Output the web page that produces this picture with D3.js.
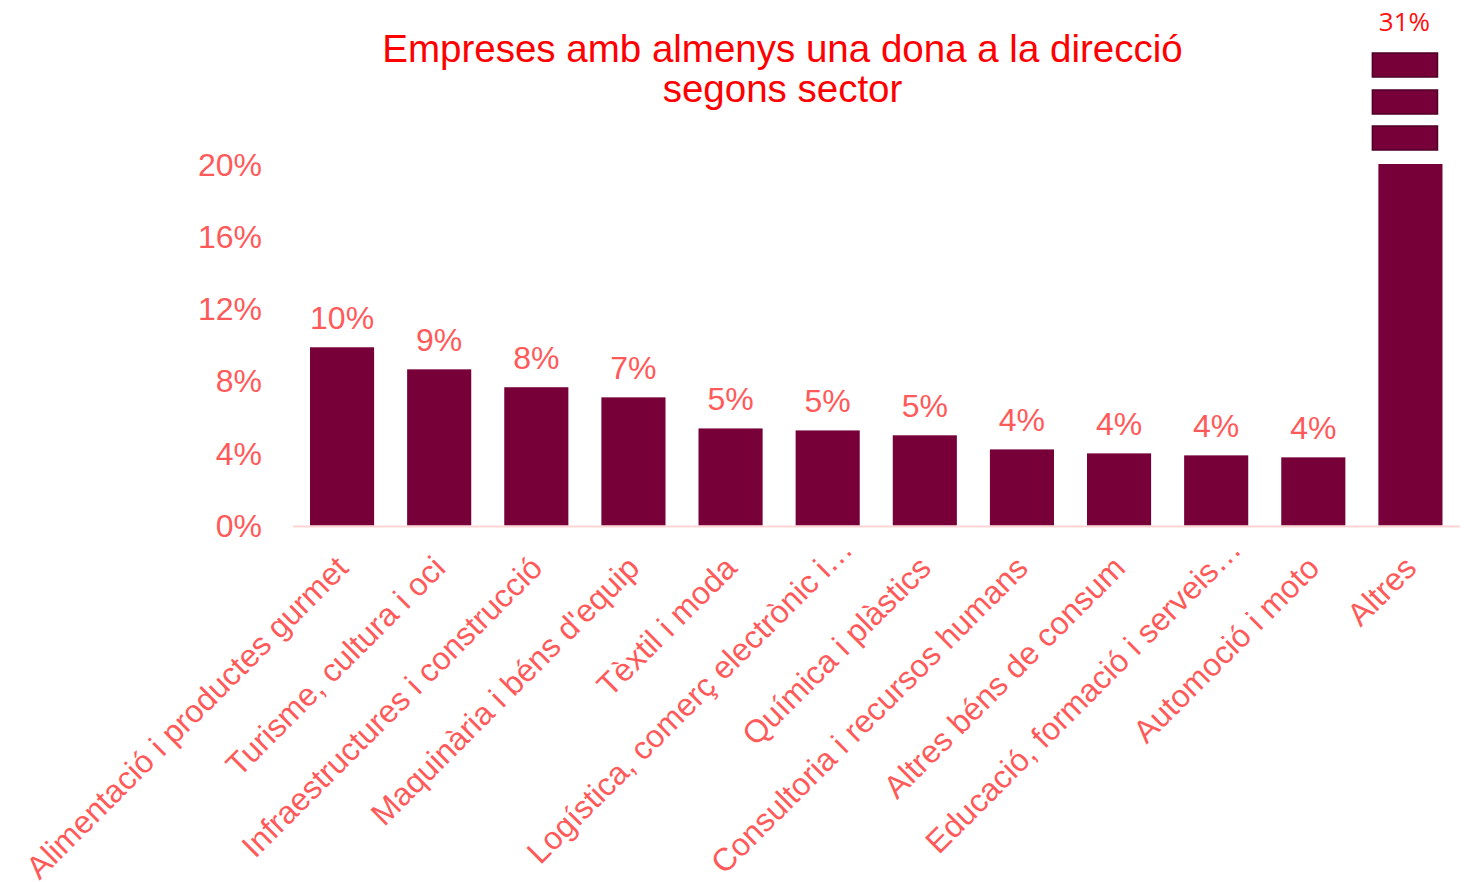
<!DOCTYPE html>
<html>
<head>
<meta charset="utf-8">
<script src="https://cdn.jsdelivr.net/npm/d3@7"></script>
<style>
  body { margin: 0; background: #fff; }
  svg { display: block; }
</style>
</head>
<body>
<div class="viz"></div>
<script>
const sectors = [
  "Alimentació i productes gurmet",
  "Turisme, cultura i oci",
  "Infraestructures i construcció",
  "Maquinària i béns d'equip",
  "Tèxtil i moda",
  "Logística, comerç electrònic i…",
  "Química i plàstics",
  "Consultoria i recursos humans",
  "Altres béns de consum",
  "Educació, formació i serveis…",
  "Automoció i moto",
  "Altres"
];
const shares = [9.86, 8.64, 7.65, 7.09, 5.37, 5.26, 4.99, 4.21, 3.99, 3.88, 3.77, 31];
const yTicks = [0, 4, 8, 12, 16, 20];
const titleLines = ["Empreses amb almenys una dona a la direcció", "segons sector"];

const width = 1468, height = 882;
const barColor = "#760037";
const labelColor = "#ff5a5a";
const font = "'Liberation Sans', Arial, sans-serif";

const svg = d3.select(".viz").append("svg")
  .attr("width", width)
  .attr("height", height);

const x = d3.scaleBand()
  .domain(sectors)
  .range([293.5, 1459])
  .paddingInner(0.34)
  .paddingOuter(0.17);

// axis stops at 20%, the "Altres" bar is cut with break marks
const y = d3.scaleLinear()
  .domain([0, 20])
  .range([525.5, 164])
  .clamp(true);

// title
svg.append("text")
  .attr("x", 782.5)
  .attr("y", 62)
  .attr("text-anchor", "middle")
  .style("font-family", font)
  .style("font-size", "38.5px")
  .style("fill", "#ff0000")
  .selectAll("tspan")
  .data(titleLines)
  .enter().append("tspan")
  .attr("x", 782.5)
  .attr("dy", (d, i) => i ? 40 : 0)
  .text(d => d);

// y labels
svg.append("g")
  .selectAll("text")
  .data(yTicks)
  .enter().append("text")
  .attr("x", 262)
  .attr("y", d => y(d))
  .attr("dy", "0.36em")
  .attr("text-anchor", "end")
  .style("font-family", font)
  .style("font-size", "32px")
  .style("fill", labelColor)
  .text(d => d + "%");

// bars
svg.append("g")
  .selectAll("rect")
  .data(shares)
  .enter().append("rect")
  .attr("x", (d, i) => x(sectors[i]))
  .attr("y", d => y(d))
  .attr("width", x.bandwidth())
  .attr("height", d => y(0) - y(d))
  .attr("fill", barColor);

// baseline
svg.append("line")
  .attr("x1", 293).attr("x2", 1460)
  .attr("y1", y(0) + 1).attr("y2", y(0) + 1)
  .attr("stroke", "#ffd4d4")
  .attr("stroke-width", 2);

// value labels (bars within the axis range)
svg.append("g")
  .selectAll("text")
  .data(shares.filter(d => d <= 20))
  .enter().append("text")
  .attr("x", (d, i) => x(sectors[i]) + x.bandwidth() / 2)
  .attr("y", d => y(d) - 18)
  .attr("text-anchor", "middle")
  .style("font-family", font)
  .style("font-size", "32px")
  .style("fill", labelColor)
  .text(d => d3.format(".0f")(d) + "%");

// break marks above the cut bar
const last = sectors.length - 1;
const cutX = x(sectors[last]);
[111, 74, 38].forEach(off => {
  svg.append("rect")
    .attr("x", cutX - 6)
    .attr("y", y(20) - off)
    .attr("width", x.bandwidth() + 1)
    .attr("height", 24)
    .attr("fill", barColor)
    .attr("stroke", "#4e0026")
    .attr("stroke-width", 1.5);
});

svg.append("text")
  .attr("x", cutX + x.bandwidth() / 2 - 6)
  .attr("y", 31)
  .attr("text-anchor", "middle")
  .style("font-family", "'Open Sans', sans-serif")
  .style("font-size", "26px")
  .style("fill", "#ff1010")
  .text(d3.format(".0f")(shares[last]) + "%");

// rotated category labels (truncated ones overhang a bit further)
svg.append("g")
  .selectAll("text")
  .data(sectors)
  .enter().append("text")
  .attr("transform", d => {
    const shift = d.endsWith("…") ? 19 : 0;
    return `translate(${x(d) + x.bandwidth() / 2 + 8 + shift}, ${570 - shift}) rotate(-45)`;
  })
  .attr("text-anchor", "end")
  .style("font-family", font)
  .style("font-size", "32px")
  .style("fill", labelColor)
  .text(d => d);
</script>
</body>
</html>
